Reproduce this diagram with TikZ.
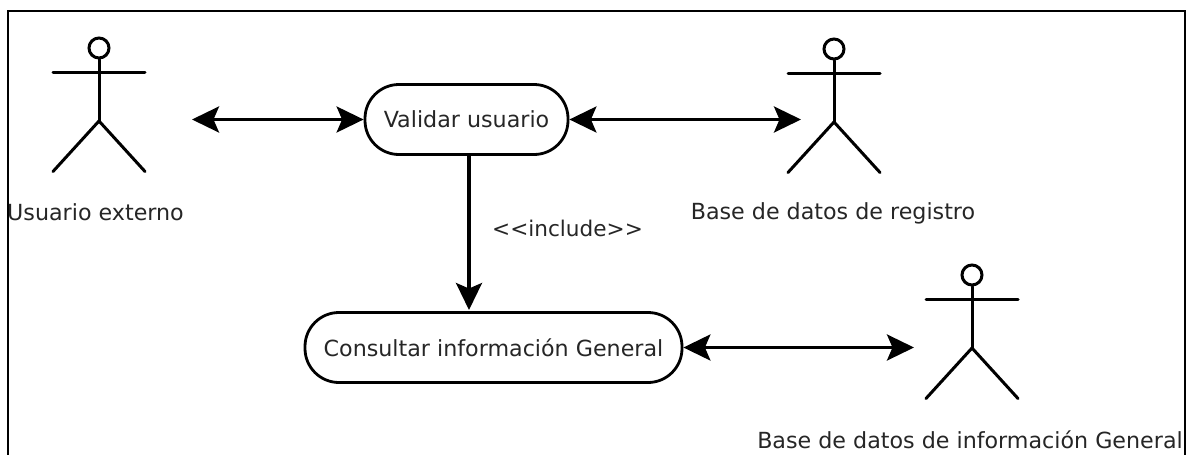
\documentclass[tikz,border=0pt]{standalone}
\usepackage{fontspec}
\setmainfont{DejaVu Sans}
\usetikzlibrary{arrows.meta}
\tikzset{
  uline/.style={line width=3pt,black,line cap=round},
  arrowline/.style={line width=3.2pt,black},
  frameline/.style={line width=2pt,black},
  usecase/.style={draw,line width=2.8pt,rounded corners=34pt,minimum height=70pt,inner sep=0pt,font=\fontsize{22.2}{26}\selectfont,text=black!85},
  lbl/.style={inner sep=0pt,font=\fontsize{22.2}{26}\selectfont,text=black!85},
  headc/.style={draw,circle,line width=3pt,minimum size=20pt,inner sep=0pt},
  dblarrow/.style={arrowline,{Stealth[length=27pt,width=26pt,inset=5.5pt]}-{Stealth[length=27pt,width=26pt,inset=5.5pt]}},
  sglarrow/.style={arrowline,-{Stealth[length=27pt,width=26pt,inset=5.5pt]}}
}
\newcommand{\umlactor}[3]{% name, x, y of head centre
  \node[headc] (#1head) at (#2,#3) {};
  \coordinate (#1neck) at (#2,#3+24);
  \coordinate (#1hip) at (#2,#3+73);
  \coordinate (#1la) at (#2-46,#3+24);
  \coordinate (#1ra) at (#2+46,#3+24);
  \coordinate (#1lf) at (#2-46,#3+123.5);
  \coordinate (#1rf) at (#2+46,#3+123.5);
  \draw[uline] (#1head) -- (#1hip);
  \draw[uline] (#1la) -- (#1ra);
  \draw[uline] (#1lf) -- (#1hip) -- (#1rf);
}
\begin{document}
\begin{tikzpicture}[x=1pt,y=-1pt]
\useasboundingbox (0,0) rectangle (1192,455);
\fill[white] (0,0) rectangle (1192,455);
\coordinate (fbl) at (7.5,455);
\coordinate (ftl) at (7.5,10.5);
\coordinate (ftr) at (1185,10.5);
\coordinate (fbr) at (1185,455);
\draw[frameline] (fbl) -- (ftl) -- (ftr) -- (fbr);

\umlactor{a}{99}{48}
\umlactor{b}{834}{49}
\umlactor{c}{972}{275}

\node[usecase,minimum width=203pt] (val) at (466.5,119.5) {Validar usuario};
\node[usecase,minimum width=377pt] (con) at (493.5,347.5) {Consultar información General};

\node[lbl] (la) at (95.5,212) {Usuario externo};
\node[lbl] (lb) at (833,213) {Base de datos de registro};
\node[lbl] (lc) at (970,440) {Base de datos de información General};
\node[lbl,font=\fontsize{21.6}{26}\selectfont] (inc) at (567.5,228) {<{}<include>{}>};

\coordinate (aend) at (192,119.5);
\coordinate (bend) at (801,119.5);
\coordinate (cend) at (914,347.5);
\coordinate (vbot) at (469,155);
\coordinate (ctop) at (469,310);

\draw[dblarrow] (aend) -- (val.west);
\draw[dblarrow] (val.east) -- (bend);
\draw[dblarrow] (con.east) -- (cend);
\draw[sglarrow] (vbot) -- (ctop);
\end{tikzpicture}
\end{document}
